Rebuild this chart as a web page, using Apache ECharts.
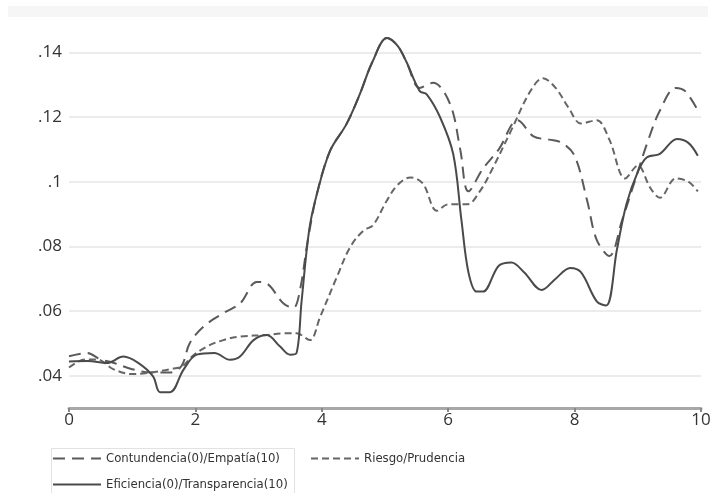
<!DOCTYPE html>
<html>
<head>
<meta charset="utf-8">
<script src="https://cdn.jsdelivr.net/npm/echarts@6/dist/echarts.min.js"></script>
<style>
html,body{margin:0;padding:0;background:#fff;}
#c{width:714px;height:493px;}
</style>
</head>
<body>
<div id="c"></div>
<script>
// ---- data ----
const seriesNames = ['Contundencia(0)/Empatía(10)', 'Riesgo/Prudencia', 'Eficiencia(0)/Transparencia(10)'];
const xTicks = [0, 2, 4, 6, 8, 10];
const yTicks = [0.04, 0.06, 0.08, 0.10, 0.12, 0.14];

const contX = [0, 0.28, 0.5, 0.7, 1.0, 1.3, 1.6, 1.78, 1.91, 2.13, 2.44, 2.71, 2.97, 3.13, 3.39, 3.55, 3.65, 3.78, 3.92, 4.13, 4.39, 4.6, 4.8, 5.03, 5.2, 5.34, 5.55, 5.76, 6.03, 6.19, 6.32, 6.55, 6.8, 7.1, 7.35, 7.6, 7.8, 8.0, 8.2, 8.35, 8.55, 8.75, 8.95, 9.15, 9.35, 9.6, 9.75, 9.95];
const contY = [.046, .047, .045, .044, .042, .041, .041, .043, .050, .0552, .0593, .0624, .069, .0685, .0624, .061, .066, .082, .096, .1095, .1178, .127, .137, .1444, .142, .137, .129, .1306, .124, .110, .097, .104, .110, .119, .114, .113, .112, .108, .094, .082, .077, .088, .100, .112, .122, .129, .128, .122];

const riesX = [0, 0.25, 0.45, 0.7, 1.0, 1.3, 1.6, 1.8, 1.95, 2.18, 2.44, 2.71, 3.13, 3.39, 3.6, 3.81, 3.97, 4.24, 4.45, 4.66, 4.81, 5.03, 5.2, 5.4, 5.6, 5.82, 6.0, 6.3, 6.5, 6.7, 7.0, 7.3, 7.5, 7.7, 7.9, 8.1, 8.35, 8.55, 8.8, 9.0, 9.2, 9.35, 9.6, 9.8, 9.95];
const riesY = [.0425, .045, .045, .042, .0405, .041, .042, .043, .046, .049, .051, .0521, .0526, .0531, .0531, .051, .058, .0706, .0798, .0849, .0865, .0942, .099, .1013, .0994, .091, .093, .093, .097, .104, .116, .128, .132, .129, .123, .118, .119, .113, .101, .105, .098, .095, .101, .100, .097];

const efiX = [0, 0.3, 0.6, 0.86, 1.1, 1.33, 1.44, 1.6, 1.81, 2.02, 2.3, 2.55, 2.71, 2.92, 3.13, 3.34, 3.5, 3.6, 3.68, 3.8, 3.92, 4.13, 4.39, 4.6, 4.8, 5.03, 5.2, 5.34, 5.55, 5.66, 5.87, 6.08, 6.21, 6.32, 6.45, 6.55, 6.8, 7.0, 7.2, 7.48, 7.7, 7.93, 8.1, 8.35, 8.5, 8.67, 8.82, 9.0, 9.14, 9.35, 9.62, 9.8, 9.95];
const efiY = [.0444, .0445, .0439, .0459, .0439, .0398, .0349, .0349, .0418, .0465, .047, .0449, .046, .051, .0526, .049, .0465, .047, .063, .085, .096, .1095, .1178, .127, .137, .1444, .142, .137, .128, .127, .120, .1085, .088, .072, .066, .066, .074, .075, .072, .0665, .070, .0733, .072, .063, .0617, .079, .093, .103, .1075, .1086, .1132, .112, .108];

const pairs = (xs, ys) => xs.map((x, i) => [x, ys[i]]);
const FONT = 'Open Sans';
const NARROW = '"DejaVu Sans Condensed", "Liberation Sans Narrow", "Open Sans"';

const chart = echarts.init(document.getElementById('c'), null, {renderer: 'canvas'});
const mkSeries = (name, xs, ys, dash, color) => ({
  name, type: 'line', data: pairs(xs, ys), smooth: 0.35, symbol: 'none', showSymbol: false,
  lineStyle: {color, width: 2, type: dash},
  itemStyle: {color}, z: 3, animation: false
});
const mkLegend = (name, left, top) => ({
  data: [name], left, top, padding: 0, itemWidth: 48, itemHeight: 14, selectedMode: false,
  itemStyle: {opacity: 0}, lineStyle: {width: 2},
  textStyle: {color: '#333', fontFamily: NARROW, fontSize: 13, padding: [0, 0, 4, 0]}
});

chart.setOption({
  animation: false,
  backgroundColor: '#fff',
  grid: {left: 69, right: 13, top: 20, bottom: 85, containLabel: false},
  xAxis: {
    type: 'value', min: 0, max: 10, interval: 2,
    axisLine: {show: true, lineStyle: {color: '#a8a8a8', width: 3}},
    axisTick: {show: true, length: 4, lineStyle: {color: '#888', width: 2}},
    splitLine: {show: false},
    axisLabel: {color: '#333', fontFamily: FONT, fontSize: 17, margin: 4,
      formatter: v => xTicks.includes(v) ? String(v) : ''}
  },
  yAxis: {
    type: 'value', min: 0.03, max: 0.15, interval: 0.01,
    axisLine: {show: false}, axisTick: {show: false},
    splitLine: {show: true, lineStyle: {color: ['rgba(0,0,0,0)', '#ececec'], width: 2}},
    axisLabel: {color: '#333', fontFamily: FONT, fontSize: 17, margin: 7,
      formatter: v => {
        const r = Math.round(v * 100) / 100;
        if (!yTicks.some(t => Math.abs(t - r) < 1e-9) || Math.abs(v - r) > 1e-9) return '';
        return String(r).replace(/^0/, '');
      }}
  },
  legend: [
    mkLegend(seriesNames[0], 52, 452),
    mkLegend(seriesNames[1], 310, 452),
    mkLegend(seriesNames[2], 52, 478)
  ],
  graphic: [
    {type: 'rect', left: 8, top: 6, shape: {width: 700, height: 11}, style: {fill: '#f6f6f6'}, z: -1},
    {type: 'rect', left: 49, top: 446, shape: {width: 243, height: 50}, style: {fill: 'none', stroke: '#e2e2e2', lineWidth: 1}, z: -1}
  ],
  series: [
    mkSeries(seriesNames[0], contX, contY, [12, 7], '#5a5a5a'),
    mkSeries(seriesNames[1], riesX, riesY, [7, 4], '#666'),
    mkSeries(seriesNames[2], efiX, efiY, 'solid', '#4a4a4a')
  ]
});
</script>
</body>
</html>
